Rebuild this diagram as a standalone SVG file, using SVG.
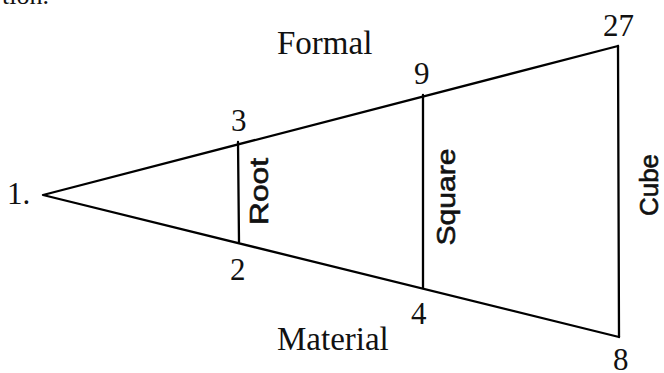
<svg xmlns="http://www.w3.org/2000/svg" width="664" height="373" viewBox="0 0 664 373">
<style>
.ln{stroke:#000;stroke-width:2.3;fill:none;stroke-linejoin:round;stroke-linecap:round}
.sr{font-family:"Liberation Serif","Times New Roman",serif;font-size:33px;fill:#111}
.num{font-family:"Liberation Serif","Times New Roman",serif;font-size:31px;fill:#111}
.ss{font-family:"Liberation Sans",Arial,sans-serif;font-size:26px;fill:#111;stroke:#111;stroke-width:0.6;text-anchor:middle}
</style>
<rect width="664" height="373" fill="#fff"/>
<text x="2" y="4" style="font-family:'Liberation Serif',serif;font-size:26px;fill:#111">tion.</text>
<g id="connectors">
<polyline class="ln" points="618,46 43,195 619,337"/>
<line class="ln" x1="238" y1="142" x2="239" y2="242"/>
<line class="ln" x1="423" y1="95" x2="423" y2="288"/>
<line class="ln" x1="618" y1="46" x2="619" y2="337"/>
</g>
<g id="n1"><text class="num" x="7" y="204">1.</text></g>
<g id="n3"><text class="num" x="231" y="131">3</text></g>
<g id="n2"><text class="num" x="230" y="280">2</text></g>
<g id="n9"><text class="num" x="414" y="84">9</text></g>
<g id="n4"><text class="num" x="411" y="324">4</text></g>
<g id="n27"><text class="num" x="603" y="36">27</text></g>
<g id="n8"><text class="num" x="613" y="370">8</text></g>
<g id="formal"><text class="sr" x="277" y="54">Formal</text></g>
<g id="material"><text class="sr" x="277" y="350">Material</text></g>
<g id="root"><text class="ss" transform="translate(268,191.5) rotate(-90)" textLength="67" lengthAdjust="spacingAndGlyphs">Root</text></g>
<g id="square"><text class="ss" transform="translate(455,197) rotate(-90)" textLength="97" lengthAdjust="spacingAndGlyphs">Square</text></g>
<g id="cube"><text class="ss" transform="translate(658,185) rotate(-90)" textLength="62" lengthAdjust="spacingAndGlyphs">Cube</text></g>
</svg>
